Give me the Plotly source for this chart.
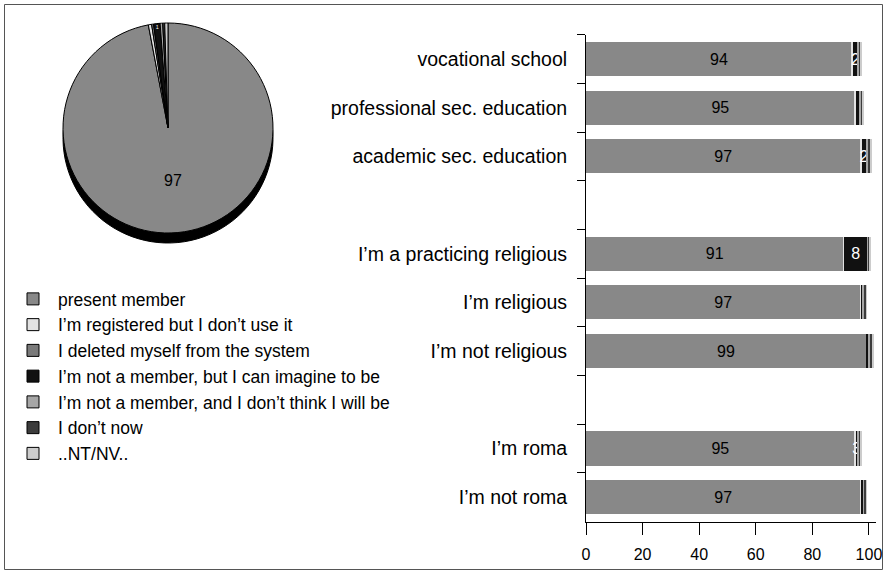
import plotly.graph_objects as go

# ---------------- data ----------------
answer_labels = [
    "present member",
    "I’m registered but I don’t use it",
    "I deleted myself from the system",
    "I’m not a member, but I can imagine to be",
    "I’m not a member, and I don’t think I will be",
    "I don’t now",
    "..NT/NV..",
]
answer_colors = ["#888888", "#e2e2e2", "#7a7a7a", "#111111", "#a6a6a6", "#3c3c3c", "#cccccc"]

pie_values = [97, 0.5, 0.3, 1.0, 0.4, 0.3, 0.5]
pie_text = ["97", "", "", "1", "", "", ""]

categories = [
    "vocational school",
    "professional sec. education",
    "academic sec. education",
    " ",
    "I’m a practicing religious",
    "I’m religious",
    "I’m not religious",
    "  ",
    "I’m roma",
    "I’m not roma",
]
present = [94, 95, 97, None, 91, 97, 99, None, 95, 97]
registered = [0.4, 0.4, 0.4, None, 0.3, 0.3, 0.3, None, 0.3, 0.3]
deleted = [0, 0, 0, None, 0, 0, 0, None, 0, 0]
imagine = [1.7, 1.3, 1.8, None, 8.1, 0.6, 0.5, None, 0.8, 0.7]
dont_think = [0.4, 0.5, 0.6, None, 0.6, 0.5, 0.8, None, 0.5, 0.3]
dont_know = [0.5, 0.5, 0.6, None, 0.3, 0.6, 0.6, None, 0.4, 0.7]
nt_nv = [0.4, 0.3, 0.5, None, 0.6, 0.3, 0.6, None, 0.6, 0.2]
present_text = ["94", "95", "97", "", "91", "97", "99", "", "95", "97"]
imagine_text = ["2", "", "2", "", "8", "", "", "", "3", ""]
x_ticks = [0, 20, 40, 60, 80, 100]

series = [present, registered, deleted, imagine, dont_think, dont_know, nt_nv]
series_text = [present_text, None, None, imagine_text, None, None, None]

W, H = 887, 574
FONT = "Liberation Sans, Arial, sans-serif"

fig = go.Figure()

# pie "thickness" (shadow) drawn underneath
fig.add_trace(go.Pie(
    values=pie_values, labels=answer_labels, sort=False, direction="clockwise",
    marker=dict(colors=["#000000"] * len(pie_values), line=dict(color="#000000", width=1)),
    textinfo="none", showlegend=False, hoverinfo="skip",
    domain=dict(x=[63 / W, 273 / W], y=[1 - 243 / H, 1 - 33 / H]),
))

fig.add_trace(go.Pie(
    values=pie_values, labels=answer_labels, sort=False, direction="clockwise",
    marker=dict(colors=answer_colors, line=dict(color="#000000", width=1)),
    text=pie_text, textinfo="text", textposition="inside",
    insidetextfont=dict(color=["#000000", "#000", "#000", "#ffffff", "#000", "#000", "#000"], size=16, family=FONT),
    insidetextorientation="horizontal",
    domain=dict(x=[63 / W, 273 / W], y=[1 - 233 / H, 1 - 23 / H]),
    showlegend=True,
))

for i, (vals, txt) in enumerate(zip(series, series_text)):
    fig.add_trace(go.Bar(
        y=categories, x=vals, orientation="h", name=answer_labels[i],
        marker=dict(color=answer_colors[i], line=dict(width=0)),
        text=txt, textposition="inside" if txt else "none",
        insidetextanchor="middle", constraintext="none",
        insidetextfont=dict(color="#000000" if i == 0 else "#ffffff", size=16, family=FONT),
        showlegend=False, xaxis="x", yaxis="y",
    ))

fig.update_layout(
    width=W, height=H, template="none",
    paper_bgcolor="white", plot_bgcolor="white",
    margin=dict(l=0, r=0, t=0, b=0),
    barmode="stack", bargap=0.3,
    font=dict(family=FONT, size=16, color="#000000"),
    xaxis=dict(domain=[586 / W, 876 / W], range=[0, 102.5], tickvals=x_ticks,
               ticks="outside", ticklen=12, tickcolor="#000", showline=True, linecolor="#000",
               showgrid=False, zeroline=False, automargin=False, ticklabelstandoff=6,
               tickfont=dict(size=16)),
    yaxis=dict(domain=[1 - 521.5 / H, 1 - 34.7 / H], autorange=False, range=[9.5, -0.5],
               type="category", categoryorder="array", categoryarray=categories,
               tickson="boundaries", ticks="outside", ticklen=8, tickcolor="#000",
               showline=True, linecolor="#000", showgrid=False, zeroline=False,
               automargin=False, ticklabelstandoff=14, tickfont=dict(size=19.5)),
    legend=dict(x=8 / W, y=1 - 281 / H, xanchor="left", yanchor="top",
                font=dict(size=17.5), bgcolor="rgba(0,0,0,0)", itemwidth=40,
                traceorder="normal"),
    shapes=[dict(type="rect", xref="paper", yref="paper",
                 x0=4.5 / W, x1=882.5 / W, y0=1 - 569.5 / H, y1=1 - 4.5 / H,
                 line=dict(color="#555555", width=1), layer="below")],
)

fig.write_html("out.html", config={"displayModeBar": False},
               post_script="document.body.style.margin='0';")
